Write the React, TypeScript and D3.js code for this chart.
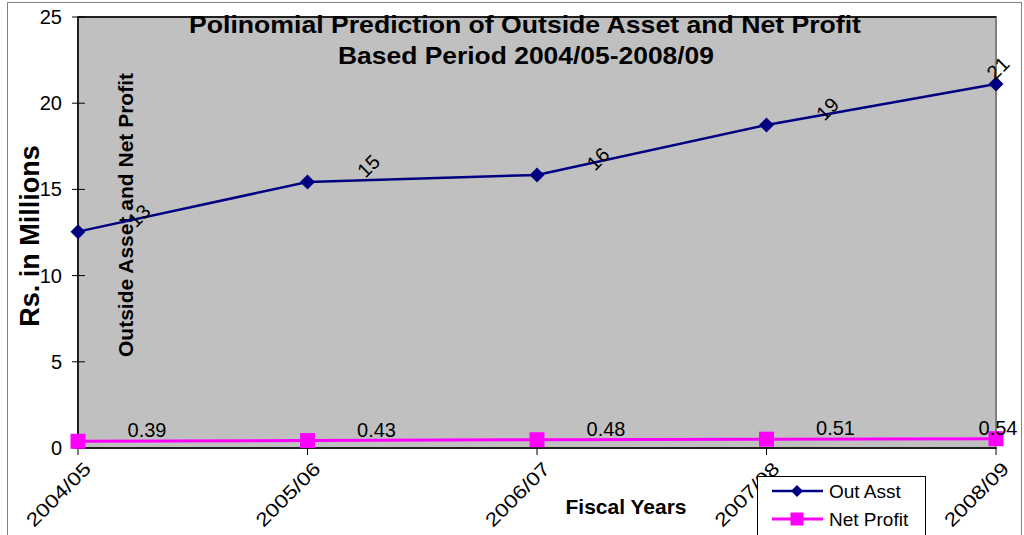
import React, { useLayoutEffect } from 'react';
import * as d3 from 'd3';

const years = ['2004/05', '2005/06', '2006/07', '2007/08', '2008/09'];
const outAsst = [12.55, 15.43, 15.84, 18.74, 21.11];
const outAsstLabels = ['13', '15', '16', '19', '21'];
const netProfit = [0.39, 0.43, 0.48, 0.51, 0.54];
const netProfitLabels = ['0.39', '0.43', '0.48', '0.51', '0.54'];
const yTicks = [0, 5, 10, 15, 20, 25];

const W = 1024;
const H = 535;
const plot = { left: 78, right: 996, top: 17, bottom: 448 };
const font = '"Liberation Sans", Arial, sans-serif';
const NAVY = '#000080';
const MAGENTA = '#ff00ff';

const App: React.FC = () => {
  useLayoutEffect(() => {
    document.body.style.margin = '0';
  }, []);

  const x = d3.scalePoint<string>().domain(years).range([plot.left, plot.right]);
  const y = d3.scaleLinear().domain([0, 25]).range([plot.bottom, plot.top]);

  const line = d3.line<number>()
    .x((_, i) => x(years[i]) as number)
    .y(d => y(d));

  const diamond = (cx: number, cy: number, r: number) =>
    `M${cx},${cy - r}L${cx + r},${cy}L${cx},${cy + r}L${cx - r},${cy}Z`;

  return (
    <svg width={W} height={H} style={{ display: 'block', fontFamily: font }}>
      <rect x={0} y={0} width={W} height={H} fill="#fff" />
      <rect x={7.5} y={2.5} width={1014} height={540} fill="none" stroke="#808080" />

      {/* plot area */}
      <rect x={plot.left} y={plot.top} width={plot.right - plot.left} height={plot.bottom - plot.top}
        fill="#c0c0c0" stroke="#808080" strokeWidth={2} />
      <line x1={plot.left} x2={plot.right} y1={plot.top} y2={plot.top} stroke="#000" strokeWidth={1.5} />
      <line x1={plot.left} x2={plot.left} y1={plot.top} y2={plot.bottom} stroke="#000" strokeWidth={1.5} />
      <line x1={plot.left} x2={plot.right} y1={plot.bottom} y2={plot.bottom} stroke="#000" strokeWidth={1.5} />

      {/* y axis */}
      {yTicks.map(t => (
        <g key={t}>
          <line x1={plot.left - 6} x2={plot.left + 7} y1={y(t)} y2={y(t)} stroke="#000" />
          <text x={62} y={y(t)} dy="0.35em" textAnchor="end" fontSize={20}>{t}</text>
        </g>
      ))}

      {/* x axis */}
      {years.map(c => {
        const px = x(c) as number;
        return (
          <g key={c}>
            <line x1={px} x2={px} y1={plot.bottom} y2={plot.bottom + 7} stroke="#000" />
            <text transform={`translate(${px + 4},${plot.bottom + 12}) rotate(-45)`} textAnchor="end"
              dy="0.75em" fontSize={19} textLength={82} lengthAdjust="spacingAndGlyphs">{c}</text>
          </g>
        );
      })}

      {/* titles */}
      <text x={525} y={33} textAnchor="middle" fontSize={24} fontWeight="bold"
        textLength={672} lengthAdjust="spacingAndGlyphs">
        Polinomial Prediction of Outside Asset and Net Profit
      </text>
      <text x={526} y={64} textAnchor="middle" fontSize={24} fontWeight="bold"
        textLength={376} lengthAdjust="spacingAndGlyphs">
        Based Period 2004/05-2008/09
      </text>
      <text transform="translate(39,236) rotate(-90)" textAnchor="middle" fontSize={27} fontWeight="bold">
        Rs. in Millions
      </text>
      <text transform="translate(133,215) rotate(-90)" textAnchor="middle" fontSize={21} fontWeight="bold">
        Outside Asset and Net Profit
      </text>
      <text x={626} y={514} textAnchor="middle" fontSize={21} fontWeight="bold">Fiscal Years</text>

      {/* series */}
      <path d={line(netProfit) || ''} fill="none" stroke={MAGENTA} strokeWidth={3} />
      <path d={line(outAsst) || ''} fill="none" stroke={NAVY} strokeWidth={2.5} />
      {netProfit.map((v, i) => {
        const px = x(years[i]) as number;
        return <rect key={i} x={px - 7.5} y={y(v) - 7.5} width={15} height={15} fill={MAGENTA} />;
      })}
      {outAsst.map((v, i) => {
        const px = x(years[i]) as number;
        return <path key={i} d={diamond(px, y(v), 7.5)} fill={NAVY} />;
      })}

      {/* data labels */}
      {outAsst.map((v, i) => {
        const px = Math.min((x(years[i]) as number) + 61, plot.right + 2);
        return (
          <text key={i} transform={`translate(${px},${y(v) - 16}) rotate(-45)`} textAnchor="middle"
            dy="0.35em" fontSize={20}>{outAsstLabels[i]}</text>
        );
      })}
      {netProfit.map((v, i) => {
        const px = Math.min((x(years[i]) as number) + 69, plot.right + 2);
        return (
          <text key={i} x={px} y={y(v) - 4} textAnchor="middle" fontSize={20}>{netProfitLabels[i]}</text>
        );
      })}

      {/* legend */}
      <g transform="translate(757,476)">
        <rect x={0.5} y={0.5} width={168} height={64} fill="#fff" stroke="#000" />
        <line x1={15} x2={66} y1={15} y2={15} stroke={NAVY} strokeWidth={2.5} />
        <path d={diamond(40, 15, 6)} fill={NAVY} />
        <text x={72} y={15} dy="0.35em" fontSize={19}>Out Asst</text>
        <line x1={15} x2={66} y1={43} y2={43} stroke={MAGENTA} strokeWidth={3} />
        <rect x={33.5} y={36.5} width={13} height={13} fill={MAGENTA} />
        <text x={72} y={43} dy="0.35em" fontSize={19}>Net Profit</text>
      </g>
    </svg>
  );
};

export default App;
